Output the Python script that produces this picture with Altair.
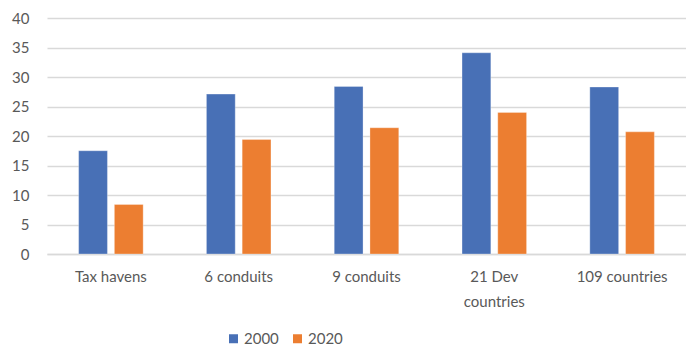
import altair as alt
import pandas as pd

categories = ["Tax havens", "6 conduits", "9 conduits", "21 Dev countries", "109 countries"]
series = ["2000", "2020"]
values_2000 = [17.5, 27.1, 28.4, 34.1, 28.3]
values_2020 = [8.4, 19.4, 21.4, 24.0, 20.7]

rows = []
for c, a, b in zip(categories, values_2000, values_2020):
    rows.append({"cat": c, "year": "2000", "value": a})
    rows.append({"cat": c, "year": "2020", "value": b})
df = pd.DataFrame(rows)

FONT = "Lato"
GREY = "#595959"

chart = alt.Chart(df).mark_bar(stroke="white", strokeWidth=0.6, strokeOpacity=0.5).encode(
    x=alt.X("cat:N", sort=categories, title=None,
            scale=alt.Scale(paddingInner=0.495, paddingOuter=0.2475),
            axis=alt.Axis(labelAngle=0, labelFontSize=15, labelColor=GREY, labelFont=FONT,
                          labelPadding=15, ticks=False, domain=True, domainColor="#d9d9d9",
                          domainWidth=1.3, labelLineHeight=25,
                          labelExpr="datum.label == '21 Dev countries' ? ['21 Dev', 'countries'] : datum.label")),
    xOffset=alt.XOffset("year:N", scale=alt.Scale(paddingInner=0.194, paddingOuter=0)),
    y=alt.Y("value:Q", title=None,
            scale=alt.Scale(domain=[0, 40], nice=False),
            axis=alt.Axis(values=[0, 5, 10, 15, 20, 25, 30, 35, 40], labelFontSize=15,
                          labelColor=GREY, labelFont=FONT, labelPadding=18, ticks=False,
                          domain=False, gridColor="#d9d9d9", gridWidth=1.3)),
    color=alt.Color("year:N", sort=series,
                    scale=alt.Scale(domain=series, range=["#4870B6", "#EC7E31"]),
                    legend=alt.Legend(title=None, orient="none", direction="horizontal",
                                      legendX=179, legendY=313, symbolType="square",
                                      symbolSize=81, symbolStrokeWidth=0, labelFontSize=15,
                                      labelColor=GREY, labelFont=FONT, labelOffset=3,
                                      columnPadding=11)),
).properties(
    width=639, height=236,
    autosize=alt.AutoSizeParams(type="none"),
    padding={"left": 47, "top": 18, "right": 0, "bottom": 92},
).configure_view(stroke=None)

chart.save("out.html", embed_options={"renderer": "svg", "actions": False})
